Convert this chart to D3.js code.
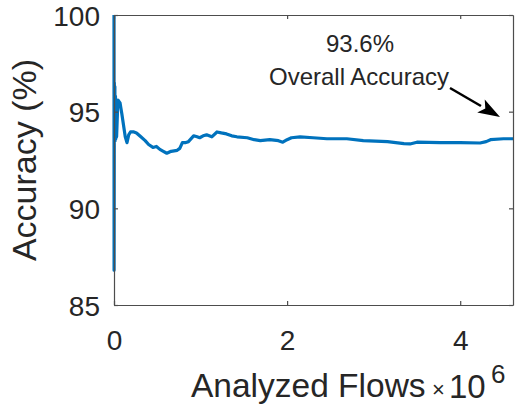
<!DOCTYPE html>
<html>
<head>
<meta charset="utf-8">
<script src="https://cdn.jsdelivr.net/npm/d3@7"></script>
<style>
  html, body { margin: 0; padding: 0; background: #fff; }
  svg { display: block; }
  text { font-family: "Liberation Sans", Arial, Helvetica, sans-serif; fill: #262626; }
</style>
</head>
<body>
<svg id="chart" width="515" height="405"></svg>
<script>
// Cumulative classification accuracy as flows are analysed (flows in millions)
const flows = [
  0, 0.001, 0.004, 0.007, 0.010, 0.013, 0.017, 0.021, 0.025, 0.030,
  0.045, 0.07, 0.09, 0.13, 0.15, 0.17, 0.19, 0.23, 0.26, 0.31,
  0.36, 0.40, 0.45, 0.49, 0.53, 0.57, 0.61, 0.66, 0.73, 0.76,
  0.79, 0.83, 0.86, 0.92, 0.96, 0.99, 1.03, 1.07, 1.13, 1.19,
  1.24, 1.30, 1.36, 1.42, 1.54, 1.62, 1.69, 1.80, 1.90, 1.95,
  2.00, 2.05, 2.15, 2.30, 2.46, 2.69, 2.88, 3.16, 3.35, 3.42,
  3.50, 3.77, 4.00, 4.23, 4.30, 4.35, 4.50, 4.61
];
const accuracy = [
  100, 86.8, 96.5, 93.5, 96.3, 93.5, 95.8, 93.6, 95.5, 93.7,
  95.6, 95.45, 94.9, 93.7, 93.4, 93.8, 93.95, 93.95, 93.9, 93.7,
  93.5, 93.3, 93.15, 93.2, 93.05, 92.95, 92.85, 92.95, 93.0, 93.1,
  93.4, 93.4, 93.45, 93.75, 93.7, 93.65, 93.75, 93.8, 93.7, 93.95,
  93.9, 93.85, 93.75, 93.7, 93.65, 93.55, 93.5, 93.55, 93.5, 93.42,
  93.55, 93.65, 93.7, 93.65, 93.6, 93.6, 93.5, 93.45, 93.35, 93.33,
  93.42, 93.4, 93.4, 93.38, 93.45, 93.55, 93.6, 93.6
];
const xTicks = [0, 2, 4];
const yTicks = [85, 90, 95, 100];
const overallAccuracy = 93.6;

const svg = d3.select("#chart");
const plotLeft = 114, plotRight = 513, plotTop = 15, plotBottom = 305;

const x = d3.scaleLinear().domain([0, 4.61]).range([plotLeft, plotRight]);
const y = d3.scaleLinear().domain([85, 100]).range([plotBottom, plotTop]);

const axisColor = "#4d4d4d";
const tickLen = 4;

// data line
const line = d3.line().x((d, i) => x(flows[i])).y(d => y(d));
svg.append("path")
  .datum(accuracy)
  .attr("d", line)
  .attr("fill", "none")
  .attr("stroke", "#0072BD")
  .attr("stroke-width", 3.2)
  .attr("stroke-linejoin", "round");

// axes box with inward ticks on all four sides
const bottomAxis = d3.axisBottom(x).tickValues(xTicks).tickSizeInner(-tickLen).tickSizeOuter(0).tickFormat(d3.format("d"));
const topAxis = d3.axisTop(x).tickValues(xTicks).tickSizeInner(-tickLen).tickSizeOuter(0).tickFormat("");
const leftAxis = d3.axisLeft(y).tickValues(yTicks).tickSizeInner(-tickLen).tickSizeOuter(0).tickFormat(d3.format("d"));
const rightAxis = d3.axisRight(y).tickValues(yTicks).tickSizeInner(-tickLen).tickSizeOuter(0).tickFormat("");

function styleAxis(g) {
  g.select(".domain").attr("stroke", axisColor).attr("stroke-width", 1.2);
  g.selectAll(".tick line").attr("stroke", axisColor).attr("stroke-width", 1.2);
  g.selectAll(".tick text").attr("fill", "#262626").attr("font-size", 28)
    .attr("font-family", "Liberation Sans, Arial, Helvetica, sans-serif");
}

svg.append("g").attr("transform", `translate(0,${plotBottom})`).call(bottomAxis).call(styleAxis)
  .selectAll(".tick text").attr("dy", null).attr("y", 45);
svg.append("g").attr("transform", `translate(0,${plotTop})`).call(topAxis).call(styleAxis);
svg.append("g").attr("transform", `translate(${plotLeft},0)`).call(leftAxis).call(styleAxis)
  .selectAll(".tick text").attr("x", -14).attr("dy", "0.36em");
svg.append("g").attr("transform", `translate(${plotRight},0)`).call(rightAxis).call(styleAxis);

// axis labels
svg.append("text")
  .attr("transform", `translate(36,${(plotTop + plotBottom) / 2}) rotate(-90)`)
  .attr("text-anchor", "middle")
  .attr("font-size", 34)
  .text("Accuracy (%)");

svg.append("text")
  .attr("x", 191).attr("y", 397)
  .attr("text-anchor", "start")
  .attr("font-size", 33.5)
  .text("Analyzed Flows");

// exponent of the x axis
svg.append("text").attr("x", 432).attr("y", 397).attr("font-size", 22).text("\u00d7");
svg.append("text").attr("x", 449).attr("y", 398).attr("font-size", 33).text("10");
svg.append("text").attr("x", 491).attr("y", 383).attr("font-size", 26).text("6");

// annotation
svg.append("text")
  .attr("x", 360).attr("y", 52)
  .attr("text-anchor", "middle")
  .attr("font-size", 24)
  .attr("fill", "#000")
  .text(`${overallAccuracy}%`);
svg.append("text")
  .attr("x", 359).attr("y", 85)
  .attr("text-anchor", "middle")
  .attr("font-size", 24)
  .attr("fill", "#000")
  .text("Overall Accuracy");

// arrow pointing at the end of the curve
const ax0 = 450, ay0 = 88, ax1 = 500, ay1 = 117;
const ang = Math.atan2(ay1 - ay0, ax1 - ax0);
const headLen = 22, headHalf = 7.5;
const bx = ax1 - headLen * Math.cos(ang), by = ay1 - headLen * Math.sin(ang);
svg.append("line")
  .attr("x1", ax0).attr("y1", ay0).attr("x2", bx).attr("y2", by)
  .attr("stroke", "#000").attr("stroke-width", 2.5);
svg.append("path")
  .attr("d", d3.line()([
    [ax1, ay1],
    [bx + headHalf * Math.sin(ang), by - headHalf * Math.cos(ang)],
    [bx + 5 * Math.cos(ang), by + 5 * Math.sin(ang)],
    [bx - headHalf * Math.sin(ang), by + headHalf * Math.cos(ang)]
  ]) + "Z")
  .attr("fill", "#000");
</script>
</body>
</html>
